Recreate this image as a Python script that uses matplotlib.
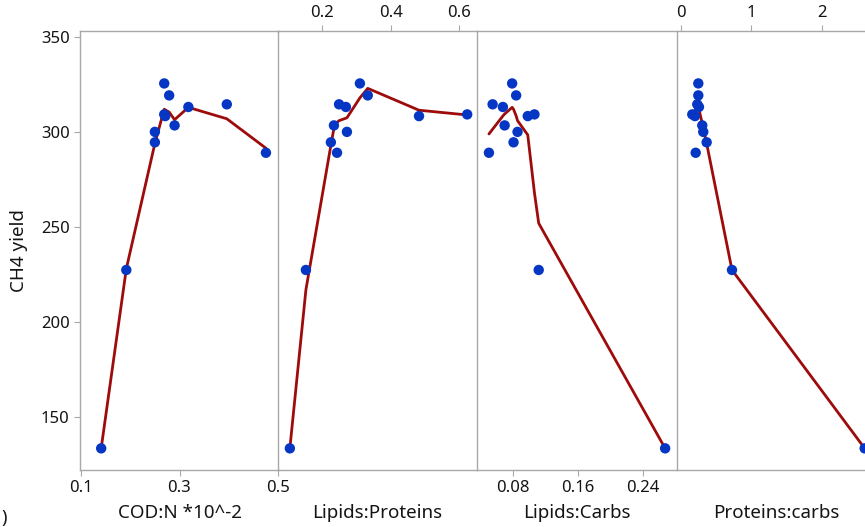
import matplotlib
matplotlib.use("Agg")
import matplotlib.pyplot as plt

plt.rcParams['font.family'] = ['Noto Sans', 'DejaVu Sans']

# CH4 yield of the 12 runs (same order in every factor list)
ch4_yield = [325.6, 319.3, 314.6, 313.2, 309.3, 308.4, 303.5, 300.1, 294.6, 289.1, 227.4, 133.5]

# factor levels of each run
cod_n = [0.269, 0.279, 0.396, 0.318, 0.269, 0.271, 0.290, 0.250, 0.250, 0.4755, 0.192, 0.141]
lipids_proteins = [0.310, 0.333, 0.249, 0.269, 0.624, 0.483, 0.234, 0.272, 0.225, 0.243, 0.152, 0.105]
lipids_carbs = [0.0795, 0.0844, 0.0556, 0.0682, 0.1068, 0.0986, 0.0703, 0.0861, 0.0812, 0.0511, 0.112, 0.2667]
proteins_carbs = [0.249, 0.249, 0.234, 0.258, 0.164, 0.202, 0.305, 0.319, 0.367, 0.212, 0.725, 2.60]

# fitted curves
fit_cod_x = [0.141, 0.192, 0.250, 0.269, 0.279, 0.290, 0.318, 0.396, 0.4755]
fit_cod_y = [133.5, 228, 294, 312, 310.5, 306.5, 313, 307, 291.5]
fit_lp_x = [0.105, 0.152, 0.225, 0.234, 0.243, 0.249, 0.272, 0.310, 0.333, 0.483, 0.624]
fit_lp_y = [133.5, 217, 293, 302, 305, 306, 307.5, 318, 323, 311.5, 309]
fit_lc_x = [0.0511, 0.0556, 0.0682, 0.0703, 0.0795, 0.0812, 0.0844, 0.0861, 0.0986, 0.1068, 0.112, 0.2667]
fit_lc_y = [299, 301.5, 308.5, 309.5, 313, 312, 308.5, 306, 298.5, 268, 252, 133.5]
fit_pc_x = [0.164, 0.202, 0.212, 0.234, 0.249, 0.258, 0.305, 0.319, 0.367, 0.725, 2.60]
fit_pc_y = [309, 311, 312, 313, 313, 312, 304.5, 302, 294, 227.4, 133.5]

panels = [
    ("COD:N *10^-2", cod_n, fit_cod_x, fit_cod_y, (0.098, 0.502), [0.1, 0.3, 0.5], ["0.1", "0.3", "0.5"], "bottom"),
    ("Lipids:Proteins", lipids_proteins, fit_lp_x, fit_lp_y, (0.0703, 0.6527), [0.2, 0.4, 0.6], ["0.2", "0.4", "0.6"], "top"),
    ("Lipids:Carbs", lipids_carbs, fit_lc_x, fit_lc_y, (0.0365, 0.280), [0.08, 0.16, 0.24], ["0.08", "0.16", "0.24"], "bottom"),
    ("Proteins:carbs", proteins_carbs, fit_pc_x, fit_pc_y, (-0.052, 2.76), [0, 1, 2], ["0", "1", "2"], "top"),
]

W, H = 865, 527
fig = plt.figure(figsize=(W / 100, H / 100), dpi=100)

left_px = [80, 278, 477, 677]
panel_w = 199
top_px, bottom_px = 31, 470
spine_col = "#a8a8a8"
text_col = "#141414"

axes = []
for i, (label, xs, fx, fy, xlim, ticks, ticklabels, tickside) in enumerate(panels):
    ax = fig.add_axes([left_px[i] / W, 1 - bottom_px / H, panel_w / W, (bottom_px - top_px) / H],
                      sharey=axes[0] if axes else None)
    axes.append(ax)
    ax.patch.set_visible(False)
    ax.plot(fx, fy, color="#9e0b0b", lw=2.0, zorder=2, solid_capstyle="round")
    ax.scatter(xs, ch4_yield, s=56, color="#0636c4", zorder=3, edgecolors="none")
    ax.set_xlim(*xlim)
    ax.set_ylim(122.1, 353.2)
    for sp in ax.spines.values():
        sp.set_color(spine_col)
        sp.set_linewidth(1.0)
    # neighbouring panels share one divider line
    ax.spines["right"].set_visible(False)
    ax.set_xticks(ticks)
    ax.set_xticklabels(ticklabels)
    if tickside == "top":
        ax.xaxis.tick_top()
    ax.tick_params(axis="x", colors=spine_col, labelcolor=text_col, labelsize=12, length=4)
    if i == 0:
        ax.set_yticks([150, 200, 250, 300, 350])
        ax.tick_params(axis="y", colors=spine_col, labelcolor=text_col, labelsize=12, length=4)
        ax.set_ylabel("CH4 yield", fontsize=13.5, color=text_col, labelpad=9)
    else:
        ax.tick_params(axis="y", left=False, labelleft=False)
    ax.text(0.5, -0.097, label, transform=ax.transAxes, ha="center", va="center",
            fontsize=13.5, color=text_col)

# bracket at the lower-left edge of the original image
fig.text(0.002, 0.0, ")", fontsize=13, color=text_col, ha="left", va="bottom")

fig.savefig("out.png", dpi=100)
